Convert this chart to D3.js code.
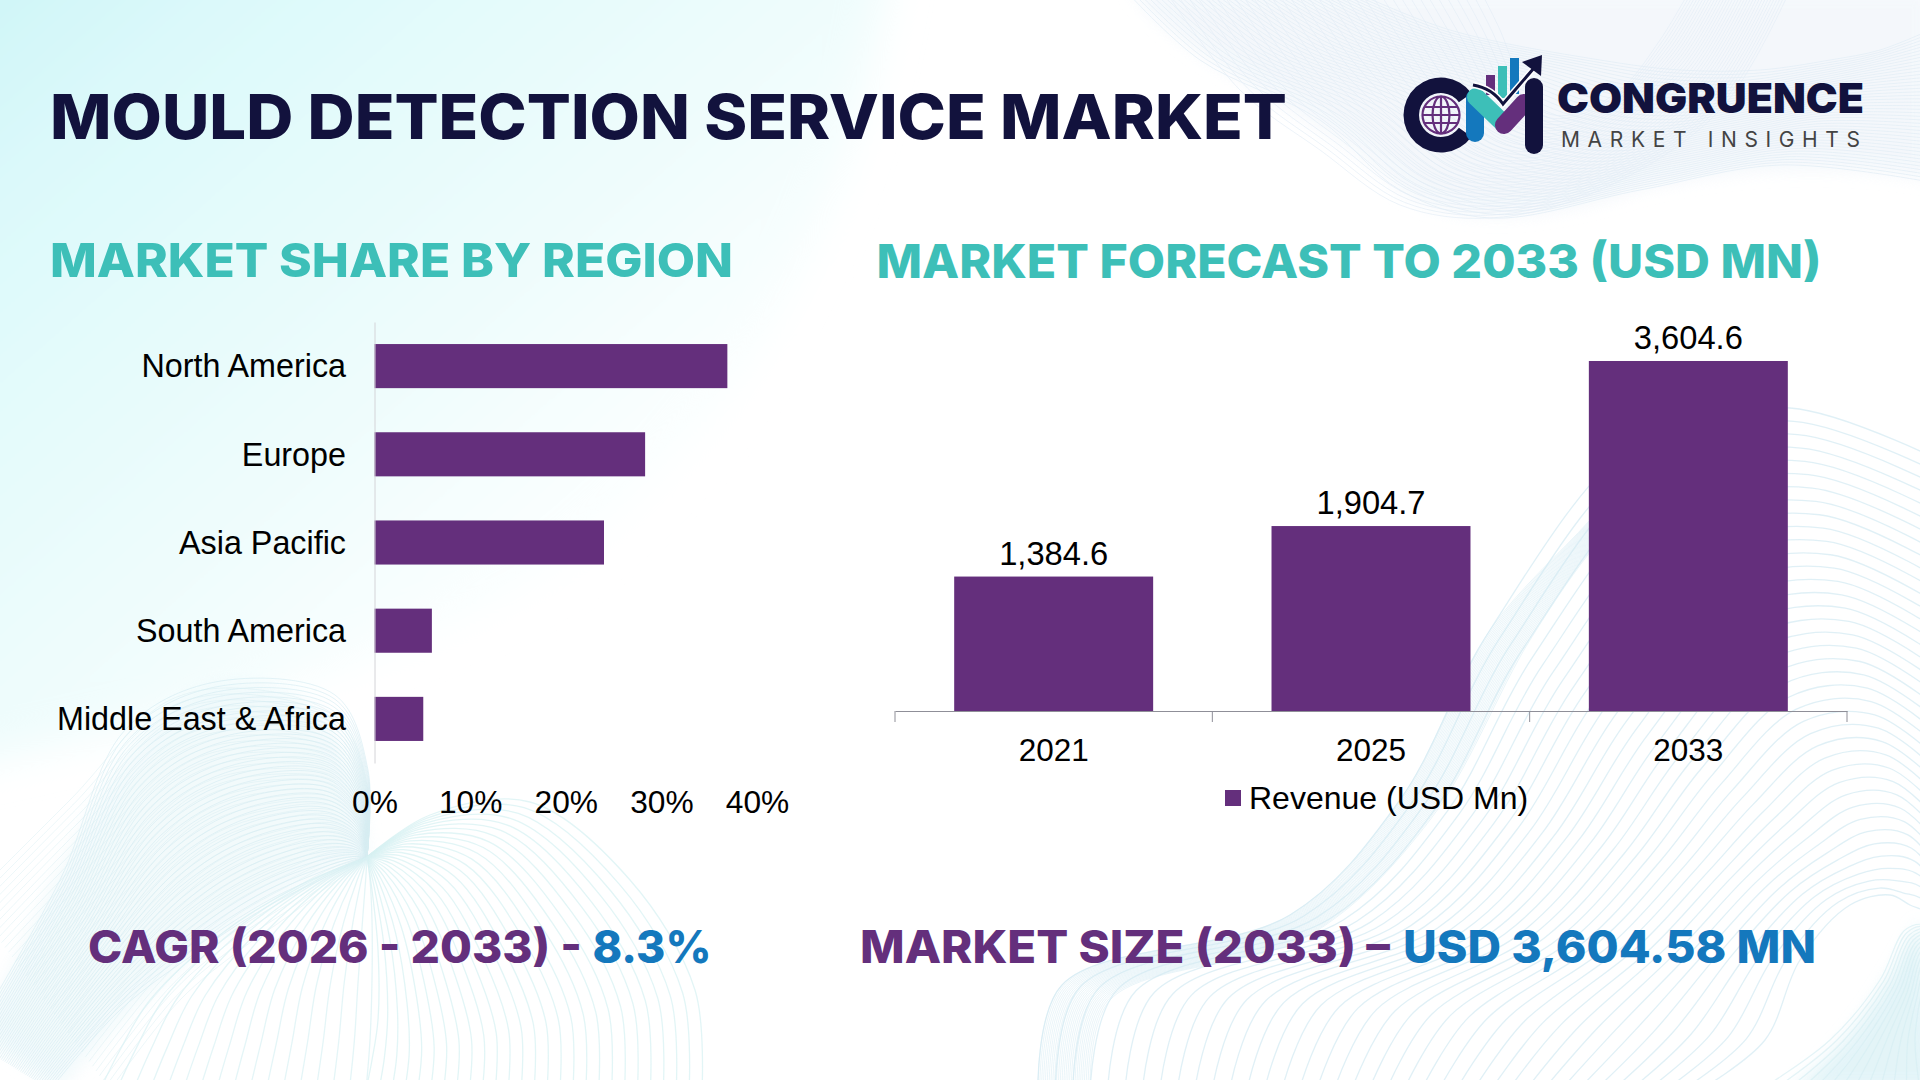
<!DOCTYPE html>
<html>
<head>
<meta charset="utf-8">
<title>Mould Detection Service Market</title>
<script src="https://cdn.jsdelivr.net/npm/d3@7"></script>
<style>
  html, body { margin: 0; padding: 0; background: #fff; }
  svg { display: block; }
  .lbl { font-family: "Liberation Sans", Arial, sans-serif; fill: #000; }
  .head { font-family: Inter, "Open Sans", sans-serif; font-weight: 800; }
</style>
</head>
<body>
<svg id="chart" width="1920" height="1080" viewBox="0 0 1920 1080"></svg>
<script>
/* ============================
   DATA
============================ */
const regions = ["North America", "Europe", "Asia Pacific", "South America", "Middle East & Africa"];
const regionShare = [36.9, 28.3, 24.0, 6.0, 5.1];
const shareTicks = [0, 10, 20, 30, 40];

const years = ["2021", "2025", "2033"];
const revenue = [1384.6, 1904.7, 3604.6];
const revenueLabels = ["1,384.6", "1,904.7", "3,604.6"];

/* ============================
   COLORS
============================ */
const PURPLE = "#642f7c";
const TEAL = "#3dbfb8";
const BLUE = "#1478bd";
const NAVY = "#12123d";

const svg = d3.select("#chart");
const defs = svg.append("defs");

/* ============================
   BACKGROUND
============================ */
const grad = defs.append("linearGradient").attr("id", "tint")
  .attr("x1", 0).attr("y1", 0).attr("x2", 0.75).attr("y2", 0.75);
grad.append("stop").attr("offset", 0).attr("stop-color", "#c6f4f6");
grad.append("stop").attr("offset", 0.3).attr("stop-color", "#dcf9fa");
grad.append("stop").attr("offset", 0.62).attr("stop-color", "#ebfcfc");
grad.append("stop").attr("offset", 1).attr("stop-color", "#ffffff");
const addBlur = (id, dev) => defs.append("filter").attr("id", id)
  .attr("x", "-30%").attr("y", "-30%").attr("width", "160%").attr("height", "160%")
  .append("feGaussianBlur").attr("stdDeviation", dev);
addBlur("soft", 20);
addBlur("haze", 8);

const curve = d3.line().curve(d3.curveCatmullRom.alpha(0.5));
const bg = svg.append("g");

bg.append("path")
  .attr("d", "M-100,-100 L900,-100 C880,60 850,180 790,290 C740,400 660,490 560,570 C400,660 200,720 -100,780 Z")
  .attr("fill", "url(#tint)")
  .attr("filter", "url(#soft)");

// manchas muy suaves debajo de las mallas
bg.append("path")
  .attr("d", "M-20,1030 C60,880 110,720 215,684 C300,675 360,720 367,857 C270,890 150,980 60,1090 Z")
  .attr("fill", "#e8f6f9").attr("opacity", 0.55).attr("filter", "url(#haze)");
bg.append("path")
  .attr("d", "M1130,-10 C1190,70 1320,110 1400,190 C1450,225 1530,225 1640,190 C1740,165 1850,165 1930,180 L1930,-10 Z")
  .attr("fill", "#f0f5fa").attr("opacity", 0.7).attr("filter", "url(#haze)");
bg.append("path")
  .attr("d", "M1790,1090 C1860,1040 1900,960 1920,920 L1940,1090 Z")
  .attr("fill", "#d8f0f5").attr("opacity", 0.7).attr("filter", "url(#haze)");

// haz de curvas entre dos bordes (solo decorado de fondo)
function mesh(a, b, n, color, width, opacity) {
  const g = bg.append("g")
    .attr("fill", "none")
    .attr("stroke", color)
    .attr("stroke-width", width)
    .attr("stroke-opacity", opacity);
  for (let i = 0; i <= n; i++) {
    const t = i / n;
    const pts = a.map((p, j) => [p[0] + (b[j][0] - p[0]) * t, p[1] + (b[j][1] - p[1]) * t]);
    g.append("path").attr("d", curve(pts));
  }
}

// abajo izquierda
mesh([[-30,1040],[60,880],[125,730],[215,682],[335,695],[368,770],[367,857]],
     [[50,1090],[120,1010],[200,950],[270,905],[320,880],[350,865],[367,857]], 46, "#d3ebf1", 1, 0.6);
mesh([[-30,900],[70,800],[170,700],[260,690],[340,720],[368,790],[367,857]],
     [[110,1090],[180,1000],[240,950],[290,915],[330,885],[355,868],[367,857]], 40, "#d6edf2", 1, 0.45);
mesh([[367,857],[430,815],[530,802],[630,880],[695,990],[702,1090]],
     [[367,857],[372,890],[378,950],[378,1020],[372,1060],[366,1090]], 26, "#d8f1f3", 1.3, 0.75);
mesh([[367,857],[300,885],[220,935],[150,1000],[120,1050],[100,1090]],
     [[367,857],[370,880],[372,920],[372,980],[370,1040],[366,1090]], 16, "#d8f1f3", 1.3, 0.7);

// abajo derecha
mesh([[1038,1090],[1062,985],[1290,915],[1400,800],[1490,630],[1640,440],[1790,408],[1960,470]],
     [[1700,1090],[1765,1040],[1800,960],[1850,905],[1890,895],[1910,905],[1930,915],[1960,980]], 38, "#d3eaf2", 1.3, 0.7);
mesh([[1038,1090],[1062,985],[1290,915],[1400,800],[1490,630],[1590,520],[1660,440],[1740,400]],
     [[1090,1090],[1110,1000],[1310,935],[1430,820],[1530,640],[1600,540],[1680,460],[1760,420]], 28, "#d3eaf2", 0.8, 0.6);
mesh([[1760,1090],[1830,1040],[1880,980],[1905,930],[1925,925],[1960,960]],
     [[1920,1090],[1915,1040],[1920,1000],[1930,960],[1945,950],[1960,990]], 12, "#d3ecf2", 1.2, 0.6);

// arriba derecha
mesh([[1125,-10],[1200,60],[1320,120],[1400,190],[1490,218],[1640,190],[1780,165],[1930,182]],
     [[1350,-10],[1450,30],[1600,60],[1680,70],[1760,70],[1830,60],[1880,50],[1930,30]], 42, "#e3edf6", 1, 0.75);
mesh([[1165,-10],[1240,90],[1320,150],[1400,205],[1490,218],[1600,190],[1720,110],[1790,-10]],
     [[1480,-10],[1500,30],[1520,80],[1540,110],[1570,115],[1620,90],[1660,40],[1690,-10]], 34, "#e3edf6", 1, 0.65);

/* ============================
   HEADINGS
============================ */
function fitText(x, y, text, size, width, color, parent) {
  return (parent || svg).append("text")
    .attr("class", "head")
    .attr("x", x).attr("y", y)
    .attr("font-size", size)
    .attr("fill", color)
    .attr("textLength", width)
    .attr("lengthAdjust", "spacingAndGlyphs")
    .text(text);
}

fitText(50, 139, "MOULD DETECTION SERVICE MARKET", 62, 1237, NAVY);
fitText(50, 277, "MARKET SHARE BY REGION", 47, 683, TEAL);
fitText(876.5, 278, "MARKET FORECAST TO 2033 (USD MN)", 47, 945, TEAL);

fitText(88, 963, "CAGR (2026 - 2033) -", 45, 494, PURPLE);
fitText(592.5, 963, "8.3%", 45, 119, BLUE);
fitText(860, 963, "MARKET SIZE (2033) –", 45, 530, PURPLE);
fitText(1403, 963, "USD 3,604.58 MN", 45, 413, BLUE);

/* ============================
   LEFT: SHARE BY REGION
============================ */
const xShare = d3.scaleLinear().domain([0, 40]).range([374.5, 757]);
const yRegion = d3.scaleBand().domain(regions).range([322, 763]).paddingInner(0.5).paddingOuter(0.25);

svg.append("g")
  .selectAll("rect")
  .data(regions)
  .enter()
  .append("rect")
  .attr("x", xShare(0))
  .attr("y", d => yRegion(d))
  .attr("width", (d, i) => xShare(regionShare[i]) - xShare(0))
  .attr("height", yRegion.bandwidth())
  .attr("fill", PURPLE);

const axRegion = svg.append("g")
  .attr("transform", `translate(${xShare(0)},0)`)
  .call(d3.axisLeft(yRegion).tickSize(0).tickPadding(28.5));
axRegion.select(".domain").attr("stroke", "#d4d4d8").attr("stroke-width", 1);
axRegion.selectAll("text").attr("class", "lbl").attr("font-size", 32.3).attr("dy", "0.35em");

const axShare = svg.append("g")
  .attr("transform", "translate(0,763)")
  .call(d3.axisBottom(xShare).tickValues(shareTicks).tickFormat(d => d + "%").tickSize(0).tickPadding(27.5));
axShare.select(".domain").remove();
axShare.selectAll("text").attr("class", "lbl").attr("font-size", 31.7);

/* ============================
   RIGHT: FORECAST
============================ */
const xYear = d3.scaleBand().domain(years).range([895, 1847]).paddingInner(0.373).paddingOuter(0.1865);
const yRev = d3.scaleLinear().domain([0, 4000]).range([711, 322.6]);

svg.append("g")
  .selectAll("rect")
  .data(years)
  .enter()
  .append("rect")
  .attr("x", d => xYear(d))
  .attr("y", (d, i) => yRev(revenue[i]))
  .attr("width", xYear.bandwidth())
  .attr("height", (d, i) => yRev(0) - yRev(revenue[i]))
  .attr("fill", PURPLE);

svg.append("g")
  .selectAll("text")
  .data(years)
  .enter()
  .append("text")
  .attr("class", "lbl")
  .attr("font-size", 32.7)
  .attr("text-anchor", "middle")
  .attr("x", d => xYear(d) + xYear.bandwidth() / 2)
  .attr("y", (d, i) => yRev(revenue[i]) - 12)
  .text((d, i) => revenueLabels[i]);

const axYear = svg.append("g")
  .attr("transform", `translate(0,${yRev(0)})`)
  .call(d3.axisBottom(xYear).tickSize(0).tickPadding(28));
axYear.select(".domain").attr("stroke", "#8f8f98").attr("stroke-width", 1.2);
axYear.selectAll("text").attr("class", "lbl").attr("font-size", 31.5);

// marcas entre categorias
const gap = (xYear.step() - xYear.bandwidth()) / 2;
const edges = years.map(d => xYear(d) - gap).concat(xYear.range()[1]);
axYear.selectAll("line.sep")
  .data(edges)
  .enter()
  .append("line")
  .attr("class", "sep")
  .attr("x1", d => d).attr("x2", d => d)
  .attr("y1", 0).attr("y2", 11)
  .attr("stroke", "#8f8f98");

svg.append("rect")
  .attr("x", 1225).attr("y", 790).attr("width", 16).attr("height", 16)
  .attr("fill", PURPLE);
svg.append("text")
  .attr("class", "lbl")
  .attr("x", 1249).attr("y", 809)
  .attr("font-size", 32)
  .text("Revenue (USD Mn)");

/* ============================
   LOGO
============================ */
const logo = svg.append("g");

// la C abre hacia la derecha (angulos de d3.arc desde las 12 en punto)
logo.append("path")
  .attr("d", d3.arc()({
    innerRadius: 22,
    outerRadius: 37.5,
    startAngle: Math.PI / 2 + 0.62,
    endAngle: Math.PI * 2.5 - 0.62
  }))
  .attr("transform", "translate(1441,115)")
  .attr("fill", NAVY);

const globe = logo.append("g")
  .attr("transform", "translate(1441,115)")
  .attr("fill", "none")
  .attr("stroke", PURPLE)
  .attr("stroke-width", 2.2);
globe.append("circle").attr("r", 18.5);
globe.append("ellipse").attr("rx", 8.5).attr("ry", 18.5);
globe.append("line").attr("x1", 0).attr("x2", 0).attr("y1", -18.5).attr("y2", 18.5);
[-8, 0, 8].forEach(dy => {
  const half = Math.sqrt(18.5 * 18.5 - dy * dy);
  globe.append("line").attr("x1", -half).attr("x2", half).attr("y1", dy).attr("y2", dy);
});

[["#642f7c", 1486, 75, 9, 20], [TEAL, 1498, 66, 9, 32], [BLUE, 1510, 58, 9, 36]].forEach(b => {
  logo.append("rect").attr("x", b[1]).attr("y", b[2]).attr("width", b[3]).attr("height", b[4]).attr("fill", b[0]);
});

const stroke = (x1, y1, x2, y2, c, w) => logo.append("line")
  .attr("x1", x1).attr("y1", y1).attr("x2", x2).attr("y2", y2)
  .attr("stroke", c).attr("stroke-width", w).attr("stroke-linecap", "round");

stroke(1475, 98, 1475, 133, BLUE, 18);
stroke(1476, 97, 1503, 123, TEAL, 18);
stroke(1504, 125, 1524, 103, PURPLE, 18);
stroke(1534, 87, 1534, 145, NAVY, 18);

logo.append("path")
  .attr("d", "M1473,85 Q1492,88 1503,104 L1534,68")
  .attr("fill", "none").attr("stroke", "#fff").attr("stroke-width", 6);
logo.append("path")
  .attr("d", "M1473,85 Q1492,88 1503,104 L1534,68")
  .attr("fill", "none").attr("stroke", NAVY).attr("stroke-width", 3);
logo.append("path").attr("d", "M1542,55 L1541,76 L1522,62 Z").attr("fill", NAVY);

fitText(1557, 113, "CONGRUENCE", 41, 307, NAVY).style("font-weight", 900);
svg.append("text")
  .attr("x", 1561).attr("y", 147)
  .attr("font-family", "Inter, sans-serif")
  .attr("font-size", 21)
  .attr("fill", "#444")
  .attr("textLength", 299)
  .attr("lengthAdjust", "spacing")
  .text("MARKET INSIGHTS");
</script>
</body>
</html>
